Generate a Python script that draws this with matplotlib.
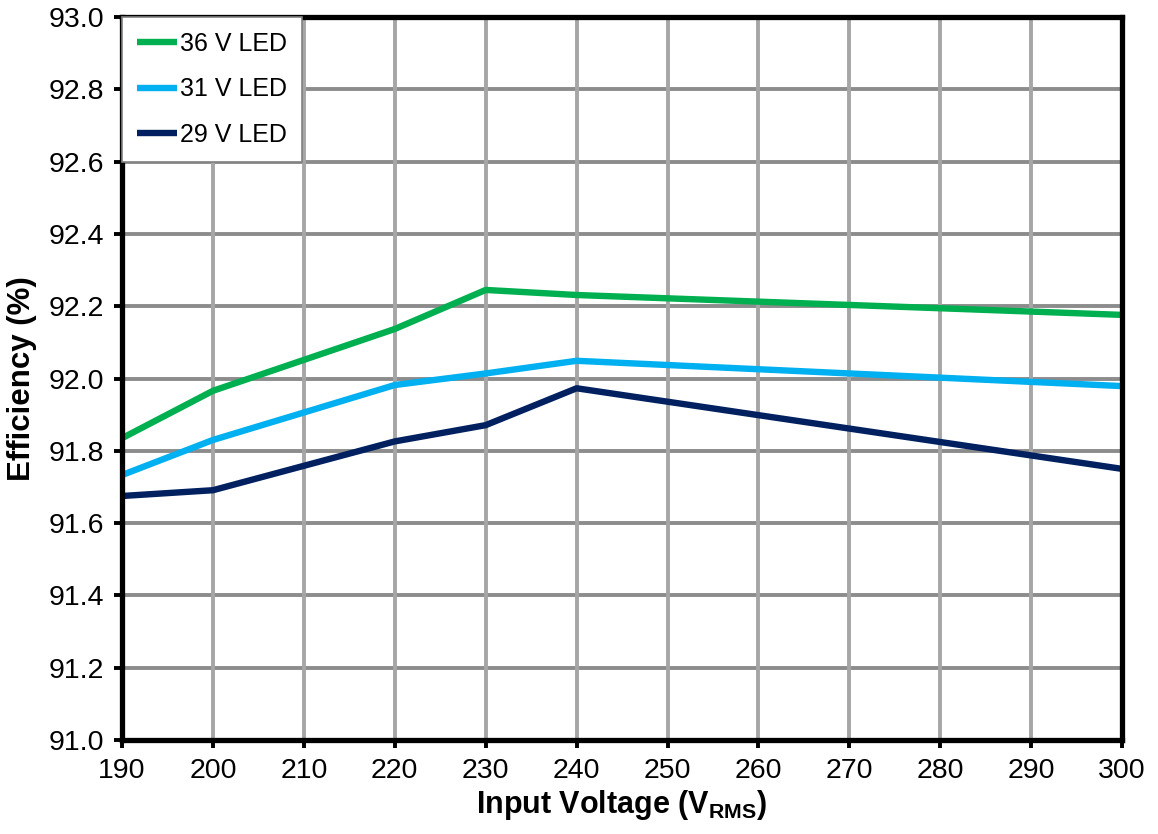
import matplotlib
matplotlib.use('Agg')
import matplotlib.pyplot as plt
import numpy as np

plt.rcParams['font.family'] = ['Liberation Sans', 'DejaVu Sans']
plt.rcParams['mathtext.fontset'] = 'custom'
plt.rcParams['mathtext.rm'] = 'Liberation Sans'
plt.rcParams['mathtext.bf'] = 'Liberation Sans:bold'

# data
vin = [190, 200, 220, 230, 240, 300]
eff_36v = [91.835, 91.966, 92.137, 92.245, 92.231, 92.176]
eff_31v = [91.733, 91.830, 91.982, 92.014, 92.049, 91.979]
eff_29v = [91.675, 91.691, 91.826, 91.871, 91.973, 91.750]

series = [
    ('36 V LED', eff_36v, '#00B050'),
    ('31 V LED', eff_31v, '#00B0F0'),
    ('29 V LED', eff_29v, '#002060'),
]

fig = plt.figure(figsize=(11.58, 8.34), dpi=100)
ax = fig.add_axes([0.1054, 0.1127, 0.8636, 0.8669])

for label, vals, col in series:
    ax.plot(vin, vals, color=col, linewidth=4.6, label=label,
            solid_capstyle='butt', zorder=3)

ax.set_xlim(190, 300)
ax.set_ylim(91.0, 93.0)
ax.set_xticks(np.arange(190, 301, 10))
ax.set_yticks(np.arange(91.0, 93.01, 0.2))
ax.set_yticklabels([f'{v:.1f}' for v in np.arange(91.0, 93.01, 0.2)])

# grid: horizontal darker, vertical lighter
for y in np.arange(91.2, 93.0, 0.2):
    ax.axhline(y, color='#8c8c8c', linewidth=2.8, zorder=1)
for x in range(200, 300, 10):
    ax.axvline(x, color='#a6a6a6', linewidth=2.8, zorder=1)

for s in ax.spines.values():
    s.set_linewidth(3.8)
    s.set_color('black')
    s.set_zorder(4)

ax.tick_params(axis='both', direction='out', length=6, width=2.8,
               labelsize=20.5, pad=7)

ax.set_xlabel(r'Input Voltage (V$_{\mathbf{RMS}}$)', fontsize=22,
              fontweight='bold', labelpad=3)
ax.set_ylabel('Efficiency (%)', fontsize=22.5, fontweight='bold', labelpad=8)

leg = ax.legend(loc='upper left', fontsize=18, frameon=True, fancybox=False,
                edgecolor='#808080', framealpha=1, borderaxespad=0,
                handlelength=1.6, handletextpad=0.1, labelspacing=0.85,
                borderpad=0.6)
leg.get_frame().set_linewidth(1.2)
leg.set_zorder(5)

fig.savefig('out.png', dpi=100)
plt.close(fig)
